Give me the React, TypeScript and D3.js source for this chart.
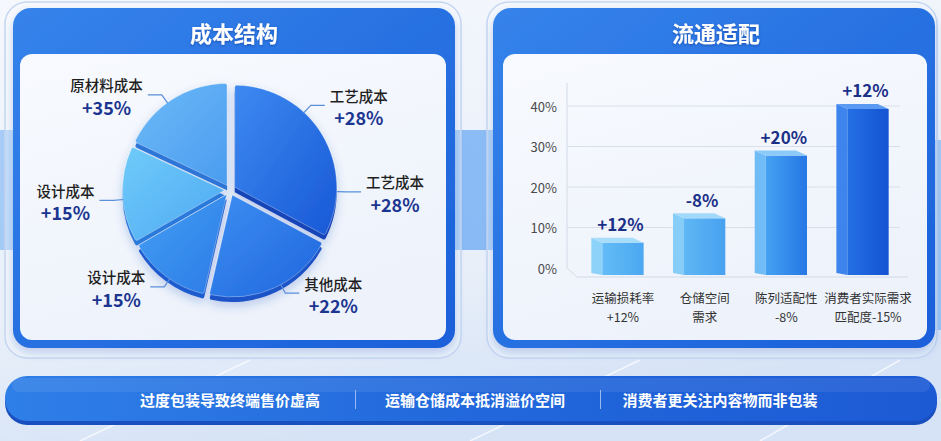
import React from 'react';
import * as d3 from 'd3';

// pie: slice shares, labels as printed
const pieCategories = ['工艺成本', '其他成本', '设计成本', '设计成本', '原材料成本'];
const pieShares = [32.8, 20.8, 13.1, 15.3, 18.0];
const pieLabelNames = ['工艺成本', '工艺成本', '其他成本', '设计成本', '设计成本', '原材料成本'];
const pieLabelValues = ['+28%', '+28%', '+22%', '+15%', '+15%', '+35%'];
const pieLabelSlice = [0, 0, 1, 2, 3, 4];

// bars
const barCategories = ['运输损耗率', '仓储空间', '陈列适配性', '消费者实际需求'];
const barSubLabels = ['+12%', '需求', '-8%', '匹配度-15%'];
const barValues = [7.5, 13.5, 29, 40.5];
const barTags = ['+12%', '-8%', '+20%', '+12%'];
const yTicks = [0, 10, 20, 30, 40];

const bannerItems = ['过度包装导致终端售价虚高', '运输仓储成本抵消溢价空间', '消费者更关注内容物而非包装'];

const W = 941;
const H = 441;
const FONT = '"Noto Sans CJK SC", "Noto Sans", sans-serif';

const sliceTop = [['#3d8af1', '#1858d6'], ['#3c8ef1', '#2066de'], ['#44a0f4', '#2b7ae6'], ['#70cbfa', '#4ea8f2'], ['#6dbaf8', '#4a9cef']];
const sliceSide = ['#1444b8', '#1a52c6', '#1d5ccf', '#2c7adc', '#2d74d8'];
const barFront = [['#63bcf6', '#4ba7f1'], ['#5fb7f5', '#47a1ef'], ['#45a2f3', '#2677e4'], ['#2470e4', '#1553d2']];
const barSide = ['#8dd2f9', '#86cdf8', '#6fbcf7', '#3d85ec'];
const barTop = ['#a7dcfb', '#a2d9fb', '#8ccaf9', '#5b9af2'];

const App: React.FC = () => {
  // ---- pie
  const cx = 230, cy = 190, r = 102, explode = 5.5;
  const arcs = d3.pie<number>().sort(null).startAngle(0).endAngle(Math.PI * 2).value(d => d)(pieShares);
  const arcGen = d3.arc<d3.PieArcDatum<number>>().innerRadius(0).outerRadius(r).cornerRadius(2);
  const shift = (a: d3.PieArcDatum<number>) => {
    const m = (a.startAngle + a.endAngle) / 2;
    return [explode * Math.sin(m), -explode * Math.cos(m)];
  };

  const labels = pieLabelNames.map((name, i) => {
    const s = pieLabelSlice[i];
    const a = arcs[s];
    const same = pieLabelSlice.filter(v => v === s).length;
    const k = pieLabelSlice.slice(0, i).filter(v => v === s).length;
    const frac = same === 1 ? 0.45 : 0.37 + 0.4 * k;
    const ang = a.startAngle + (a.endAngle - a.startAngle) * frac;
    const pt = (rad: number) => [cx + rad * Math.sin(ang), cy - rad * Math.cos(ang)];
    const [x0, y0] = pt(r + 5);
    const [x1, y1] = pt(r + 15);
    const dir = Math.sin(ang) >= 0 ? 1 : -1;
    const x2 = x1 + dir * 14;
    const tx = x2 + dir * (name.length * 14.5 / 2 + 5);
    return { name, value: pieLabelValues[i], x0, y0, x1, y1, x2, tx };
  });

  // ---- bars
  const xScale = d3.scaleBand<string>().domain(barCategories).range([575, 905]).paddingInner(0.36).paddingOuter(0.2);
  const yScale = d3.scaleLinear().domain([0, 40]).range([268, 106]);
  const depthX = 11, depthY = 5;
  const bw = xScale.bandwidth();

  const bannerX = d3.scalePoint<string>().domain(bannerItems).range([230, 720]);

  return (
    <svg width={W} height={H} style={{ position: 'absolute', left: 0, top: 0, fontFamily: FONT }}>
      <defs>
        <linearGradient id="bg" x1="0" y1="0" x2="0.3" y2="1">
          <stop offset="0" stopColor="#f5f8fd" />
          <stop offset="0.7" stopColor="#e8eff9" />
          <stop offset="1" stopColor="#d6e3f6" />
        </linearGradient>
        <linearGradient id="blue" x1="0" y1="0" x2="1" y2="1">
          <stop offset="0" stopColor="#3583ea" />
          <stop offset="1" stopColor="#1a5fda" />
        </linearGradient>
        <linearGradient id="card" x1="0" y1="0" x2="0.4" y2="1">
          <stop offset="0" stopColor="#f8fafe" />
          <stop offset="1" stopColor="#edf2fb" />
        </linearGradient>
        <linearGradient id="banner" x1="0" y1="0" x2="1" y2="0">
          <stop offset="0" stopColor="#2f7fe8" />
          <stop offset="0.5" stopColor="#2268dc" />
          <stop offset="1" stopColor="#1c5ad4" />
        </linearGradient>
        {sliceTop.map((c, i) => (
          <linearGradient key={i} id={`sl${i}`} x1="0" y1="0" x2="1" y2="1">
            <stop offset="0" stopColor={c[0]} />
            <stop offset="1" stopColor={c[1]} />
          </linearGradient>
        ))}
        {barFront.map((c, i) => (
          <linearGradient key={i} id={`bf${i}`} x1="0" y1="0" x2="1" y2="0">
            <stop offset="0" stopColor={c[0]} />
            <stop offset="1" stopColor={c[1]} />
          </linearGradient>
        ))}
        <filter id="shadow" x="-20%" y="-20%" width="140%" height="140%">
          <feDropShadow dx="0" dy="4" stdDeviation="5" floodColor="#1a4fb8" floodOpacity="0.25" />
        </filter>
        <filter id="tshadow">
          <feDropShadow dx="0" dy="1" stdDeviation="1" floodColor="#0a2a80" floodOpacity="0.5" />
        </filter>
      </defs>

      {/* background */}
      <rect width={W} height={H} fill="url(#bg)" />
      <rect x={455} y={130} width={40} height={120} fill="#3b8ef0" opacity={0.55} />
      <rect x={0} y={130} width={14} height={120} fill="#4d9cf2" opacity={0.45} />
      <rect x={928} y={140} width={13} height={190} fill="#4d9cf2" opacity={0.45} />
      <path d="M470,441 L640,360 M760,441 L900,360 M80,441 L250,360" stroke="#ffffff" strokeWidth={1.5} opacity={0.7} />

      {/* left panel */}
      <rect x={5} y={2} width={456} height={356} rx={22} fill="#ffffff" fillOpacity={0.35} stroke="#c6d7f1" strokeWidth={1.5} />
      <rect x={13} y={8} width={442} height={340} rx={18} fill="url(#blue)" filter="url(#shadow)" />
      <rect x={20} y={54} width={426} height={286} rx={12} fill="url(#card)" />
      <text x={234} y={32} textAnchor="middle" dominantBaseline="central" fill="#ffffff" fontSize={22} fontWeight={700} filter="url(#tshadow)">成本结构</text>

      {/* right panel */}
      <rect x={487} y={2} width={450} height={356} rx={22} fill="#ffffff" fillOpacity={0.35} stroke="#c6d7f1" strokeWidth={1.5} />
      <rect x={493} y={8} width={442} height={340} rx={18} fill="url(#blue)" filter="url(#shadow)" />
      <rect x={503} y={54} width={424} height={286} rx={12} fill="url(#card)" />
      <text x={716} y={32} textAnchor="middle" dominantBaseline="central" fill="#ffffff" fontSize={22} fontWeight={700} filter="url(#tshadow)">流通适配</text>

      {/* pie */}
      <g filter="url(#shadow)">
        {arcs.map((a, i) => {
          const [dx, dy] = shift(a);
          return <path key={`s${i}`} d={arcGen(a) || ''} transform={`translate(${cx + dx},${cy + dy + 5})`} fill={sliceSide[i]} />;
        })}
        {arcs.map((a, i) => {
          const [dx, dy] = shift(a);
          return (
            <path key={`t${i}`} d={arcGen(a) || ''} transform={`translate(${cx + dx},${cy + dy})`} fill={`url(#sl${i})`} stroke="#ffffff" strokeOpacity={0.4} strokeWidth={0.8}>
              <title>{pieCategories[i]}</title>
            </path>
          );
        })}
      </g>
      {labels.map((l, i) => (
        <g key={i}>
          <polyline points={`${l.x0},${l.y0} ${l.x1},${l.y1} ${l.x2},${l.y1}`} fill="none" stroke="#5a8fd9" strokeWidth={1.2} />
          <text x={l.tx} y={l.y1 - 10} textAnchor="middle" dominantBaseline="central" fontSize={14.5} fontWeight={500} fill="#1e1e1e">{l.name}</text>
          <text x={l.tx} y={l.y1 + 12} textAnchor="middle" dominantBaseline="central" fontSize={18} fontWeight={700} fill="#1b3590">{l.value}</text>
        </g>
      ))}

      {/* bar chart axes */}
      {yTicks.map(t => (
        <g key={t}>
          {t > 0 && <line x1={567} x2={900} y1={yScale(t)} y2={yScale(t)} stroke="#d9dfe9" strokeWidth={1} />}
          <text x={557} y={yScale(t)} textAnchor="end" dominantBaseline="central" fontSize={13} fill="#4a4a4a">{`${t}%`}</text>
        </g>
      ))}
      <polyline points={`567,83 567,${yScale(0)} 577,${yScale(0) + 9} 908,${yScale(0) + 9}`} fill="none" stroke="#d3dae6" strokeWidth={1} />

      {/* bars */}
      {barCategories.map((c, i) => {
        const x = xScale(c) || 0;
        const fx = x + depthX;
        const yt = yScale(barValues[i]);
        const yb = yScale(0) + 7;
        const fy = yt + depthY;
        return (
          <g key={c}>
            <polygon points={`${x},${yt} ${fx},${fy} ${fx},${yb} ${x},${yb - 2}`} fill={barSide[i]} />
            <rect x={fx} y={fy} width={bw - depthX} height={yb - fy} fill={`url(#bf${i})`} />
            <polygon points={`${x},${yt} ${x + bw - depthX},${yt} ${x + bw},${fy} ${fx},${fy}`} fill={barTop[i]} />
            <text x={x + bw / 2 + 3} y={yt - 14} textAnchor="middle" dominantBaseline="central" fontSize={17} fontWeight={700} fill="#1b3088">{barTags[i]}</text>
            <text x={fx + (bw - depthX) / 2} y={297} textAnchor="middle" dominantBaseline="central" fontSize={12.5} fill="#333">{c}</text>
            <text x={fx + (bw - depthX) / 2} y={316} textAnchor="middle" dominantBaseline="central" fontSize={12.5} fill="#333">{barSubLabels[i]}</text>
          </g>
        );
      })}

      {/* banner */}
      <rect x={5} y={380} width={932} height={45} rx={22} fill="#1a4fbf" />
      <rect x={5} y={376} width={932} height={45} rx={22} fill="url(#banner)" />
      <rect x={12} y={378} width={918} height={14} rx={7} fill="#ffffff" opacity={0.08} />
      {bannerItems.map((t, i) => (
        <g key={t}>
          <text x={bannerX(t)} y={399} textAnchor="middle" dominantBaseline="central" fontSize={15} fontWeight={700} fill="#ffffff">{t}</text>
          {i > 0 && (
            <line
              x1={((bannerX(bannerItems[i - 1]) || 0) + (bannerX(t) || 0)) / 2 + 3}
              x2={((bannerX(bannerItems[i - 1]) || 0) + (bannerX(t) || 0)) / 2 + 3}
              y1={390} y2={409} stroke="#ffffff" strokeOpacity={0.55} strokeWidth={1}
            />
          )}
        </g>
      ))}
    </svg>
  );
};

export default App;
